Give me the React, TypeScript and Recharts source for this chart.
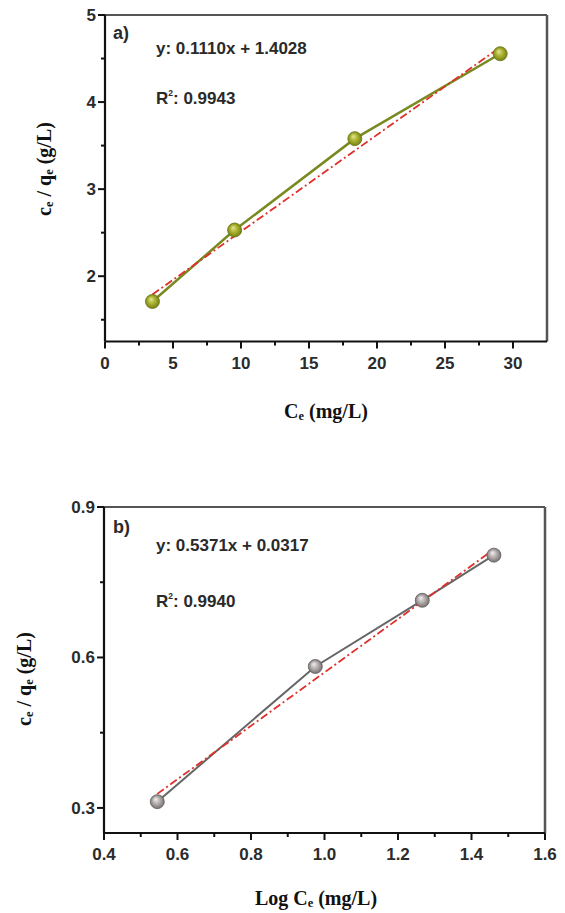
import React from 'react';
import { ScatterChart, Scatter, XAxis, YAxis, ReferenceLine } from 'recharts';

// a) Langmuir: Ce vs Ce/qe
const ceA = [3.49, 9.53, 18.37, 29.06];
const ratioA = [1.71, 2.53, 3.58, 4.555];
const fitXA = [3.49, 29.06];
const fitYA = [1.79, 4.63];
const xTicksA = [0, 2.5, 5, 7.5, 10, 12.5, 15, 17.5, 20, 22.5, 25, 27.5, 30];
const yTicksA = [1.5, 2, 2.5, 3, 3.5, 4, 4.5, 5];

// b) log Ce
const logCeB = [0.545, 0.975, 1.266, 1.461];
const ratioB = [0.3125, 0.582, 0.714, 0.804];
const fitXB = [0.545, 1.46];
const fitYB = [0.328, 0.815];
const xTicksB = [0.4, 0.5, 0.6, 0.7, 0.8, 0.9, 1.0, 1.1, 1.2, 1.3, 1.4, 1.5, 1.6];
const yTicksB = [0.3, 0.45, 0.6, 0.75, 0.9];

const toPts = (xs: number[], ys: number[]) => xs.map((x, i) => ({ x, y: ys[i] }));

const tickFont = { fontFamily: 'Liberation Sans, Arial, sans-serif', fontWeight: 700, fontSize: 17, fill: '#2b2b2b' };

const XTick = (props: any) => {
  const { x, y, payload, isMajor, fmt } = props;
  const major = isMajor(payload.value);
  return (
    <g>
      <line x1={x} x2={x} y1={y} y2={y + (major ? 7 : 4)} stroke="#111" strokeWidth={2} />
      {major && (
        <text x={x} y={y + 27} textAnchor="middle" {...tickFont}>
          {fmt(payload.value)}
        </text>
      )}
    </g>
  );
};

const YTick = (props: any) => {
  const { x, y, payload, isMajor, fmt } = props;
  const major = isMajor(payload.value);
  return (
    <g>
      <line x1={x - (major ? 7 : 4)} x2={x} y1={y} y2={y} stroke="#111" strokeWidth={2} />
      {major && (
        <text x={x - 9} y={y + 6} textAnchor="end" {...tickFont}>
          {fmt(payload.value)}
        </text>
      )}
    </g>
  );
};

const noShape = () => <g />;

const sphere = (id: string, edge: string) => (p: any) => (
  <circle cx={p.cx} cy={p.cy} r={7} fill={`url(#${id})`} stroke={edge} strokeWidth={0.8} />
);

const serif = { fontFamily: 'Liberation Serif, Times New Roman, serif', fontWeight: 700, fontSize: 20, color: '#111' };
const sans = { fontFamily: 'Liberation Sans, Arial, sans-serif', fontWeight: 700, fontSize: 17, color: '#2a2a2a', lineHeight: 1 };
const sub = { fontSize: '0.62em', verticalAlign: '-0.2em' };

const abs = (left: number, top: number): React.CSSProperties => ({ position: 'absolute', left, top, whiteSpace: 'nowrap' });

const AXW = 60;
const AXH = 40;

export default function App() {
  return (
    <div style={{ position: 'absolute', left: 0, top: 0, width: 565, height: 913, background: '#fff' }}>
      <div style={{ position: 'absolute', left: 0, top: 0 }}>
        <ScatterChart width={565} height={440} margin={{ top: 15, right: 18, bottom: 98.5 - AXH, left: 105 - AXW }}>
          <defs>
            <radialGradient id="sphA" cx="0.5" cy="0.5" r="0.55" fx="0.38" fy="0.32">
              <stop offset="0%" stopColor="#e4e69a" />
              <stop offset="45%" stopColor="#aeb532" />
              <stop offset="100%" stopColor="#6f7a12" />
            </radialGradient>
          </defs>
          <XAxis
            type="number"
            dataKey="x"
            domain={[0, 32.5]}
            ticks={xTicksA}
            interval={0}
            height={AXH}
            tickSize={0}
            tickMargin={0}
            tickLine={false}
            axisLine={{ stroke: '#111', strokeWidth: 2.2 }}
            tick={<XTick isMajor={(v: number) => v % 5 === 0} fmt={(v: number) => String(v)} />}
            allowDataOverflow
          />
          <YAxis
            type="number"
            dataKey="y"
            domain={[1.25, 5]}
            ticks={yTicksA}
            interval={0}
            width={AXW}
            tickSize={0}
            tickMargin={0}
            tickLine={false}
            axisLine={{ stroke: '#111', strokeWidth: 2.2 }}
            tick={<YTick isMajor={(v: number) => Number.isInteger(v)} fmt={(v: number) => String(v)} />}
            allowDataOverflow
          />
          <ReferenceLine y={5} stroke="#555" strokeWidth={2.2} />
          <ReferenceLine x={32.5} stroke="#555" strokeWidth={2.5} />
          <Scatter data={toPts(ceA, ratioA)} shape={noShape} line={{ stroke: '#788a20', strokeWidth: 2.5 }} isAnimationActive={false} />
          <Scatter data={toPts(fitXA, fitYA)} shape={noShape} line={{ stroke: '#e0302c', strokeWidth: 1.8, strokeDasharray: '8 3 2 3' }} isAnimationActive={false} />
          <Scatter data={toPts(ceA, ratioA)} shape={sphere('sphA', '#6a7410')} isAnimationActive={false} />
        </ScatterChart>
      </div>

      <div style={{ position: 'absolute', left: 0, top: 440 }}>
        <ScatterChart width={565} height={473} margin={{ top: 67, right: 20, bottom: 80 - AXH, left: 104 - AXW }}>
          <defs>
            <radialGradient id="sphB" cx="0.5" cy="0.5" r="0.55" fx="0.38" fy="0.32">
              <stop offset="0%" stopColor="#f2f0f0" />
              <stop offset="45%" stopColor="#b8b2b2" />
              <stop offset="100%" stopColor="#6e6868" />
            </radialGradient>
          </defs>
          <XAxis
            type="number"
            dataKey="x"
            domain={[0.4, 1.6]}
            ticks={xTicksB}
            interval={0}
            height={AXH}
            tickSize={0}
            tickMargin={0}
            tickLine={false}
            axisLine={{ stroke: '#111', strokeWidth: 2.2 }}
            tick={<XTick isMajor={(v: number) => Math.round(v * 10) % 2 === 0} fmt={(v: number) => v.toFixed(1)} />}
            allowDataOverflow
          />
          <YAxis
            type="number"
            dataKey="y"
            domain={[0.25, 0.9]}
            ticks={yTicksB}
            interval={0}
            width={AXW}
            tickSize={0}
            tickMargin={0}
            tickLine={false}
            axisLine={{ stroke: '#111', strokeWidth: 2.2 }}
            tick={<YTick isMajor={(v: number) => Math.round(v * 100) % 30 === 0} fmt={(v: number) => v.toFixed(1)} />}
            allowDataOverflow
          />
          <ReferenceLine y={0.9} stroke="#555" strokeWidth={2.2} />
          <ReferenceLine x={1.6} stroke="#555" strokeWidth={2.5} />
          <Scatter data={toPts(logCeB, ratioB)} shape={noShape} line={{ stroke: '#666', strokeWidth: 2 }} isAnimationActive={false} />
          <Scatter data={toPts(fitXB, fitYB)} shape={noShape} line={{ stroke: '#e0302c', strokeWidth: 1.8, strokeDasharray: '8 3 2 3' }} isAnimationActive={false} />
          <Scatter data={toPts(logCeB, ratioB)} shape={sphere('sphB', '#625c5c')} isAnimationActive={false} />
        </ScatterChart>
      </div>

      {/* annotations a */}
      <div style={{ ...sans, ...abs(113, 24), fontSize: 18 }}>a)</div>
      <div style={{ ...sans, ...abs(156, 40) }}>y: 0.1110x + 1.4028</div>
      <div style={{ ...sans, ...abs(156, 89) }}>
        R<sup style={{ fontSize: '0.5em', verticalAlign: '0.9em' }}>2</sup>: 0.9943
      </div>
      {/* annotations b */}
      <div style={{ ...sans, ...abs(113, 518), fontSize: 18 }}>b)</div>
      <div style={{ ...sans, ...abs(156, 537) }}>y: 0.5371x + 0.0317</div>
      <div style={{ ...sans, ...abs(156, 592) }}>
        R<sup style={{ fontSize: '0.5em', verticalAlign: '0.9em' }}>2</sup>: 0.9940
      </div>

      {/* axis titles */}
      <div style={{ ...serif, ...abs(45, 169), transform: 'translate(-50%, -50%) rotate(-90deg)' }}>
        c<span style={sub}>e</span> / q<span style={sub}>e</span> (g/L)
      </div>
      <div style={{ ...serif, ...abs(326, 412), transform: 'translate(-50%, -50%)' }}>
        C<span style={sub}>e</span> (mg/L)
      </div>
      <div style={{ ...serif, ...abs(25, 679), transform: 'translate(-50%, -50%) rotate(-90deg)' }}>
        c<span style={sub}>e</span> / q<span style={sub}>e</span> (g/L)
      </div>
      <div style={{ ...serif, ...abs(316, 899), transform: 'translate(-50%, -50%)' }}>
        Log C<span style={sub}>e</span> (mg/L)
      </div>
    </div>
  );
}
